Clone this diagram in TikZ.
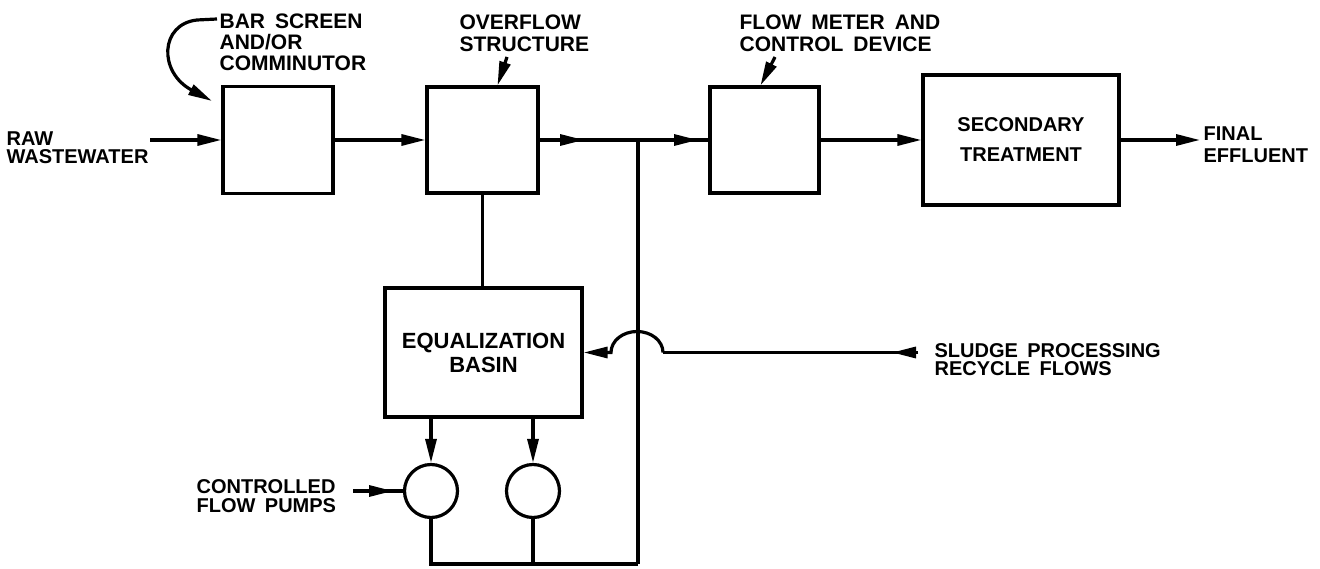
\documentclass[tikz,border=0pt]{standalone}
\usepackage{fontspec}
\setmainfont{Liberation Sans}[WordSpace=1.7]
\usetikzlibrary{arrows.meta,calc}
\begin{document}
\begin{tikzpicture}[x=1pt,y=-1pt, line width=3.2pt,
  tip/.style={-{Triangle[length=24pt,width=11pt]}},
  box/.style={draw, rectangle, inner sep=0pt},
  pump/.style={draw, circle, minimum size=53pt, inner sep=0pt},
  lbl/.style={font=\bfseries\fontsize{20}{18}\selectfont, align=left, inner sep=0pt, anchor=north west},
  toplbl/.style={lbl, font=\bfseries\fontsize{21}{21}\selectfont}]
\useasboundingbox (0,0) rectangle (1320,569);
\fill[white] (0,0) rectangle (1320,569);

% boxes
\node[box, minimum width=110pt, minimum height=107pt] (bs) at (278,140) {};
\node[box, minimum width=111pt, minimum height=106pt] (of) at (482.5,140) {};
\node[box, minimum width=109pt, minimum height=106pt] (fm) at (764.5,140) {};
\node[box, minimum width=196pt, minimum height=130pt, align=center,
      font=\bfseries\fontsize{20}{30}\selectfont] (st) at (1021,140) {SECONDARY\\TREATMENT};
\node[box, minimum width=197pt, minimum height=129pt, align=center,
      font=\bfseries\fontsize{22}{24}\selectfont] (eq) at (483.5,352.5) {EQUALIZATION\\BASIN};
\node[pump] (p1) at (431,491) {};
\node[pump] (p2) at (533,491) {};

% labels
\node[lbl] (raw) at (5,130) {RAW\\WASTEWATER};
\node[toplbl] (bsl) at (218,12) {BAR SCREEN\\AND/OR\\COMMINUTOR};
\node[toplbl, font=\bfseries\fontsize{21}{22}\selectfont] (ofl) at (458,13) {OVERFLOW\\STRUCTURE};
\node[toplbl, font=\bfseries\fontsize{21}{22}\selectfont] (fml) at (738,13) {FLOW METER AND\\CONTROL DEVICE};
\node[lbl, font=\bfseries\fontsize{20}{22}\selectfont] (fin) at (1202,125) {FINAL\\EFFLUENT};
\node[lbl] (sll) at (933,342) {SLUDGE PROCESSING\\RECYCLE FLOWS};
\node[lbl, font=\bfseries\fontsize{20}{19}\selectfont] (cfp) at (195,478) {CONTROLLED\\FLOW PUMPS};

% coordinates
\coordinate (rw) at (150,140);
\coordinate (J) at (638,140);
\coordinate (a1) at (584,140);
\coordinate (a2) at (698,140);
\coordinate (fe) at (1200,140);
\coordinate (B) at (638,564);
\coordinate (cf) at (353,491);
\coordinate (cft) at (393,491);
\coordinate (s0) at (918,352.5);
\coordinate (s1) at (892,352.5);
\coordinate (h1) at (663,352.5);
\coordinate (ofa) at (507,57);
\coordinate (fma) at (775,57);
\coordinate (bsa) at (217,19);
\coordinate (bst) at (212,101);

% main line
\draw[tip] (rw) -- (bs.west);
\draw[tip] (bs.east) -- (of.west);
\draw (of.east) -- (J) -- (fm.west);
\draw[tip] (of.east) -- (a1);
\draw[tip] (J) -- (a2);
\draw[tip] (fm.east) -- (st.west);
\draw[tip] (st.east) -- (fe);

% bypass / equalization
\draw (J) -- (B);
\draw (of.south) -- (of.south |- eq.north);
\draw[tip] (p1 |- eq.south) -- (p1.north);
\draw[tip] (p2 |- eq.south) -- (p2.north);
\draw (p1.south) -- (p1 |- B) -- (B);
\draw (p2.south) -- (p2 |- B);
\draw (cf) -- (p1.west);
\draw[tip] (cf) -- (cft);

% sludge recycle
\draw (s0) -- (h1);
\draw[tip] (s0) -- (s1);
\draw[tip] (h1) arc[start angle=0, end angle=180, x radius=26pt, y radius=21pt] -- (eq.east);

% label pointers
\draw[tip] (bsa) -- (197,20) .. controls (160,24) and (158,72) .. (bst);
\draw[tip] (ofa) -- ([xshift=15pt]of.north);
\draw[tip] (fma) -- ([xshift=-4pt]fm.north);
\end{tikzpicture}
\end{document}
